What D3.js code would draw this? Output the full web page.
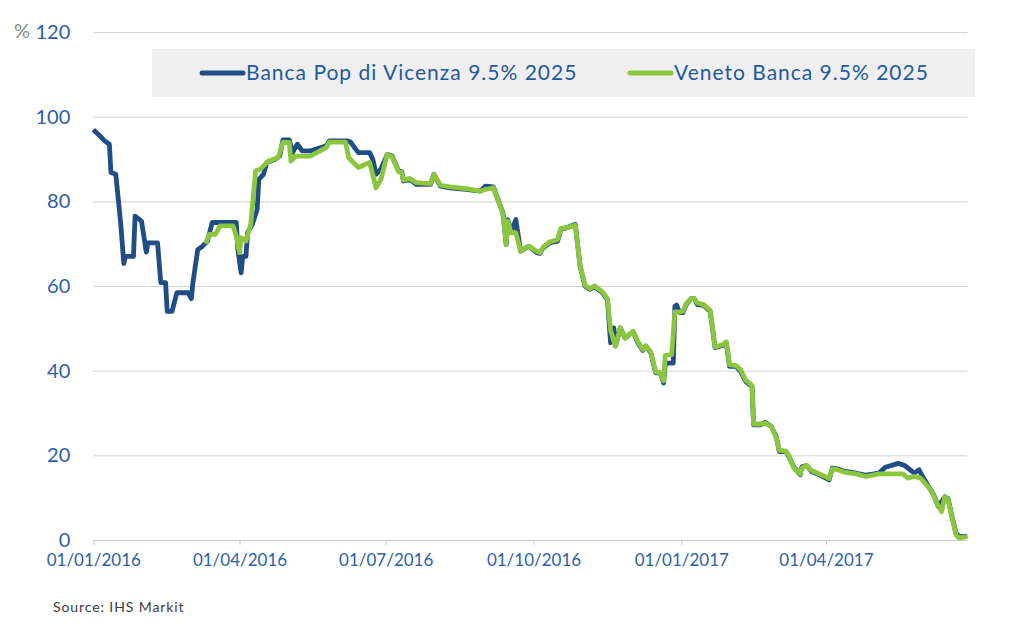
<!DOCTYPE html>
<html>
<head>
<meta charset="utf-8">
<script src="https://cdn.jsdelivr.net/npm/d3@7"></script>
<style>
    body { margin: 0; background: #fff; }
    text { font-family: Lato, "Open Sans", sans-serif; }
</style>
</head>
<body>
<div id="chart"></div>
<script>
// tick values
const yTicks = [0, 20, 40, 60, 80, 100, 120];
const xTicks = ["2016-01-01", "2016-04-01", "2016-07-01", "2016-10-01", "2017-01-01", "2017-04-01"];
const xExtent = ["2016-01-01", "2017-06-28"];
const seriesNames = ["Banca Pop di Vicenza 9.5% 2025", "Veneto Banca 9.5% 2025"];
const sourceNote = "Source: IHS Markit";

// Banca Pop di Vicenza 9.5% 2025 (price, % of par)
const vicenza = [
    ["2016-01-01", 96.9], ["2016-01-05", 95.5], ["2016-01-08", 94.3], ["2016-01-11", 93.5],
    ["2016-01-12", 86.8], ["2016-01-15", 86.4], ["2016-01-18", 75.0], ["2016-01-20", 65.3],
    ["2016-01-21", 67.0], ["2016-01-26", 67.0], ["2016-01-27", 76.5], ["2016-01-31", 75.3],
    ["2016-02-03", 68.0], ["2016-02-04", 70.2], ["2016-02-10", 70.2], ["2016-02-12", 60.8],
    ["2016-02-15", 60.8], ["2016-02-16", 54.0], ["2016-02-19", 54.0], ["2016-02-22", 58.4],
    ["2016-02-29", 58.4], ["2016-03-02", 57.0], ["2016-03-03", 60.8], ["2016-03-06", 68.6],
    ["2016-03-09", 69.4], ["2016-03-12", 70.6], ["2016-03-15", 75.0], ["2016-03-30", 75.0],
    ["2016-03-31", 68.6], ["2016-04-02", 63.1], ["2016-04-03", 67.0], ["2016-04-05", 67.0],
    ["2016-04-06", 72.6], ["2016-04-09", 74.6], ["2016-04-12", 78.1], ["2016-04-13", 85.2],
    ["2016-04-16", 86.4], ["2016-04-18", 89.2], ["2016-04-23", 89.9], ["2016-04-26", 90.7],
    ["2016-04-28", 94.5], ["2016-05-02", 94.5], ["2016-05-04", 91.5], ["2016-05-07", 93.5],
    ["2016-05-10", 91.9], ["2016-05-15", 91.9], ["2016-05-25", 93.1], ["2016-05-27", 94.3],
    ["2016-06-07", 94.3], ["2016-06-09", 94.0], ["2016-06-14", 91.5], ["2016-06-21", 91.5],
    ["2016-06-23", 89.9], ["2016-06-25", 86.4], ["2016-06-28", 87.6], ["2016-07-02", 91.1],
    ["2016-07-05", 90.7], ["2016-07-09", 87.2], ["2016-07-11", 87.0], ["2016-07-12", 84.8],
    ["2016-07-16", 85.2], ["2016-07-20", 84.0], ["2016-07-29", 84.0], ["2016-07-31", 86.4],
    ["2016-08-04", 83.6], ["2016-08-10", 83.2], ["2016-08-20", 82.8], ["2016-08-29", 82.4],
    ["2016-09-01", 83.6], ["2016-09-06", 83.4], ["2016-09-10", 79.3], ["2016-09-12", 77.3],
    ["2016-09-14", 69.8], ["2016-09-15", 75.7], ["2016-09-17", 72.6], ["2016-09-20", 75.7],
    ["2016-09-23", 68.2], ["2016-09-28", 69.4], ["2016-10-03", 67.9], ["2016-10-05", 67.7],
    ["2016-10-07", 69.0], ["2016-10-11", 70.2], ["2016-10-16", 70.6], ["2016-10-18", 73.4],
    ["2016-10-22", 73.8], ["2016-10-27", 74.6], ["2016-10-30", 64.7], ["2016-11-02", 60.0],
    ["2016-11-05", 59.2], ["2016-11-08", 59.8], ["2016-11-13", 58.4], ["2016-11-16", 56.8],
    ["2016-11-18", 46.6], ["2016-11-20", 50.1], ["2016-11-21", 45.8], ["2016-11-24", 50.1],
    ["2016-11-27", 47.7], ["2016-12-02", 49.2], ["2016-12-05", 46.6], ["2016-12-08", 44.8],
    ["2016-12-10", 45.8], ["2016-12-13", 44.2], ["2016-12-16", 39.5], ["2016-12-19", 39.5],
    ["2016-12-21", 37.1], ["2016-12-22", 41.8], ["2016-12-27", 41.8], ["2016-12-28", 55.2],
    ["2016-12-29", 55.5], ["2016-12-31", 53.7], ["2017-01-02", 53.7], ["2017-01-04", 55.6],
    ["2017-01-07", 57.0], ["2017-01-09", 57.0], ["2017-01-11", 55.6], ["2017-01-15", 55.4],
    ["2017-01-19", 54.0], ["2017-01-22", 45.4], ["2017-01-27", 46.0], ["2017-01-29", 46.6],
    ["2017-01-31", 41.0], ["2017-02-04", 41.0], ["2017-02-07", 39.8], ["2017-02-10", 37.5],
    ["2017-02-14", 36.3], ["2017-02-15", 27.2], ["2017-02-19", 27.2], ["2017-02-22", 27.8],
    ["2017-02-26", 26.8], ["2017-03-01", 24.5], ["2017-03-03", 20.9], ["2017-03-07", 20.9],
    ["2017-03-09", 19.7], ["2017-03-12", 17.3], ["2017-03-16", 15.4], ["2017-03-17", 17.3],
    ["2017-03-20", 17.6], ["2017-03-23", 16.2], ["2017-03-28", 15.4], ["2017-04-01", 14.6],
    ["2017-04-03", 14.2], ["2017-04-05", 17.0], ["2017-04-08", 16.8], ["2017-04-13", 16.2],
    ["2017-04-20", 15.8], ["2017-04-22", 15.6], ["2017-04-26", 15.3], ["2017-05-04", 15.8],
    ["2017-05-08", 17.2], ["2017-05-16", 18.1], ["2017-05-20", 17.6], ["2017-05-26", 15.8],
    ["2017-05-29", 16.6], ["2017-05-31", 15.1], ["2017-06-04", 12.6], ["2017-06-07", 10.7],
    ["2017-06-10", 7.9], ["2017-06-14", 10.2], ["2017-06-16", 9.8], ["2017-06-19", 4.7],
    ["2017-06-21", 1.6], ["2017-06-23", 0.8], ["2017-06-28", 0.9]
];

// Veneto Banca 9.5% 2025
const veneto = [
    ["2016-03-11", 70.0], ["2016-03-13", 72.2], ["2016-03-17", 72.2], ["2016-03-20", 74.2],
    ["2016-03-28", 74.2], ["2016-03-30", 71.8], ["2016-04-01", 67.9], ["2016-04-02", 71.4],
    ["2016-04-05", 70.6], ["2016-04-08", 74.6], ["2016-04-11", 87.2], ["2016-04-14", 87.6],
    ["2016-04-19", 89.5], ["2016-04-25", 90.3], ["2016-04-28", 93.9], ["2016-05-02", 93.9],
    ["2016-05-03", 89.5], ["2016-05-06", 90.7], ["2016-05-15", 90.7], ["2016-05-25", 92.7],
    ["2016-05-27", 94.0], ["2016-06-06", 94.0], ["2016-06-08", 90.3], ["2016-06-14", 88.0],
    ["2016-06-21", 89.2], ["2016-06-25", 83.2], ["2016-06-28", 85.2], ["2016-07-02", 91.1],
    ["2016-07-05", 90.5], ["2016-07-09", 87.0], ["2016-07-11", 86.8], ["2016-07-12", 85.0],
    ["2016-07-16", 85.4], ["2016-07-20", 84.4], ["2016-07-29", 84.2], ["2016-07-31", 86.4],
    ["2016-08-04", 83.8], ["2016-08-10", 83.4], ["2016-08-20", 83.0], ["2016-08-29", 82.4],
    ["2016-09-01", 82.8], ["2016-09-06", 83.2], ["2016-09-10", 79.3], ["2016-09-12", 77.0],
    ["2016-09-14", 69.8], ["2016-09-15", 75.4], ["2016-09-17", 72.6], ["2016-09-20", 72.6],
    ["2016-09-23", 68.2], ["2016-09-28", 69.4], ["2016-10-03", 68.2], ["2016-10-05", 67.9],
    ["2016-10-07", 69.2], ["2016-10-11", 70.4], ["2016-10-16", 71.0], ["2016-10-18", 73.6],
    ["2016-10-22", 73.8], ["2016-10-27", 74.4], ["2016-10-30", 64.7], ["2016-11-02", 60.2],
    ["2016-11-05", 59.4], ["2016-11-08", 60.0], ["2016-11-13", 58.6], ["2016-11-16", 57.0],
    ["2016-11-18", 49.5], ["2016-11-20", 47.0], ["2016-11-21", 45.8], ["2016-11-24", 50.1],
    ["2016-11-27", 47.7], ["2016-12-02", 49.3], ["2016-12-05", 46.9], ["2016-12-08", 45.0],
    ["2016-12-10", 45.8], ["2016-12-13", 44.4], ["2016-12-16", 39.7], ["2016-12-19", 39.5],
    ["2016-12-21", 37.6], ["2016-12-22", 43.6], ["2016-12-26", 43.8], ["2016-12-28", 53.9],
    ["2016-12-31", 53.9], ["2017-01-02", 54.0], ["2017-01-04", 55.8], ["2017-01-07", 57.0],
    ["2017-01-09", 57.0], ["2017-01-11", 56.0], ["2017-01-15", 55.6], ["2017-01-19", 54.2],
    ["2017-01-22", 45.6], ["2017-01-27", 46.2], ["2017-01-29", 46.8], ["2017-01-31", 41.4],
    ["2017-02-04", 41.2], ["2017-02-07", 40.2], ["2017-02-10", 37.8], ["2017-02-14", 36.5],
    ["2017-02-15", 27.4], ["2017-02-19", 27.4], ["2017-02-22", 27.6], ["2017-02-26", 26.8],
    ["2017-03-01", 24.2], ["2017-03-03", 21.2], ["2017-03-07", 21.0], ["2017-03-09", 19.9],
    ["2017-03-12", 17.0], ["2017-03-16", 15.6], ["2017-03-17", 17.0], ["2017-03-20", 17.6],
    ["2017-03-23", 16.4], ["2017-03-28", 15.6], ["2017-04-01", 14.9], ["2017-04-03", 14.5],
    ["2017-04-05", 16.8], ["2017-04-08", 16.6], ["2017-04-13", 16.0], ["2017-04-20", 15.6],
    ["2017-04-22", 15.4], ["2017-04-26", 15.0], ["2017-05-04", 15.6], ["2017-05-08", 15.6],
    ["2017-05-19", 15.6], ["2017-05-22", 14.6], ["2017-05-26", 15.0], ["2017-05-30", 14.6],
    ["2017-06-04", 12.4], ["2017-06-07", 10.5], ["2017-06-10", 8.0], ["2017-06-12", 6.7],
    ["2017-06-14", 10.2], ["2017-06-16", 9.6], ["2017-06-19", 4.5], ["2017-06-21", 1.2],
    ["2017-06-23", 0.5], ["2017-06-28", 0.8]
];

const seriesColors = ["#214d86", "#8cc63f"];

class BondChart {
    constructor(element) {
        this.parentElement = element;
        this.initVis();
    }

    initVis() {
        const vis = this;
        const parse = d3.timeParse("%Y-%m-%d");

        vis.WIDTH = 1024;
        vis.HEIGHT = 634;
        vis.PLOT = { LEFT: 93.3, RIGHT: 967.3, TOP: 32, BOTTOM: 540 };

        vis.svg = d3.select(vis.parentElement).append("svg")
            .attr("width", vis.WIDTH)
            .attr("height", vis.HEIGHT);

        vis.x = d3.scaleTime()
            .domain(xExtent.map(parse))
            .range([vis.PLOT.LEFT, vis.PLOT.RIGHT]);
        vis.y = d3.scaleLinear()
            .domain([0, 120])
            .range([vis.PLOT.BOTTOM, vis.PLOT.TOP]);

        // gridlines + y labels
        const yAxis = d3.axisLeft(vis.y)
            .tickValues(yTicks)
            .tickSize(-(vis.PLOT.RIGHT - vis.PLOT.LEFT))
            .tickPadding(23);
        const yG = vis.svg.append("g")
            .attr("transform", `translate(${vis.PLOT.LEFT},0)`)
            .call(yAxis);
        yG.select(".domain").remove();
        yG.selectAll(".tick line").attr("stroke", "#d3d3d3").attr("stroke-width", 1);
        yG.selectAll(".tick text")
            .attr("fill", "#2c61a8")
            .style("font-size", "20px");

        // "%" unit next to top label
        vis.svg.append("text")
            .attr("x", 30)
            .attr("y", vis.y(120))
            .attr("dy", "0.32em")
            .attr("text-anchor", "end")
            .attr("fill", "#8a8a8a")
            .style("font-size", "20px")
            .text("%");

        // x axis
        const xAxis = d3.axisBottom(vis.x)
            .tickValues(xTicks.map(parse))
            .tickFormat(d3.timeFormat("%d/%m/%Y"))
            .tickSize(5)
            .tickPadding(9)
            .tickSizeOuter(0);
        const xG = vis.svg.append("g")
            .attr("transform", `translate(0,${vis.PLOT.BOTTOM})`)
            .call(xAxis);
        xG.select(".domain").attr("stroke", "#c8c8c8");
        xG.selectAll(".tick line").attr("stroke", "#c8c8c8");
        xG.selectAll(".tick text")
            .attr("fill", "#2c61a8")
            .style("font-size", "17px");

        // legend
        const legend = vis.svg.append("g");
        legend.append("rect")
            .attr("x", 152).attr("y", 49)
            .attr("width", 823).attr("height", 48)
            .attr("fill", "#efefef");
        const legendX = [202, 630];
        seriesNames.forEach((name, i) => {
            legend.append("line")
                .attr("x1", legendX[i]).attr("x2", legendX[i] + 41)
                .attr("y1", 73).attr("y2", 73)
                .attr("stroke", seriesColors[i])
                .attr("stroke-width", 5)
                .attr("stroke-linecap", "round");
            legend.append("text")
                .attr("x", legendX[i] + 44)
                .attr("y", 73)
                .attr("dy", "0.35em")
                .attr("fill", "#1f5aa0")
                .style("font-size", "21px")
                .style("letter-spacing", "1px")
                .text(name);
        });

        vis.line = d3.line()
            .x(d => vis.x(parse(d[0])))
            .y(d => vis.y(d[1]));

        vis.svg.selectAll(".series")
            .data([vicenza, veneto])
            .join("path")
            .attr("class", "series")
            .attr("d", vis.line)
            .attr("fill", "none")
            .attr("stroke", (d, i) => seriesColors[i])
            .attr("stroke-width", 4.8)
            .attr("stroke-linejoin", "round");

        // source
        vis.svg.append("text")
            .attr("x", 53)
            .attr("y", 612)
            .attr("fill", "#3c3c3c")
            .style("font-size", "14px")
            .style("letter-spacing", "0.9px")
            .text(sourceNote);
    }
}

new BondChart("#chart");
</script>
</body>
</html>
